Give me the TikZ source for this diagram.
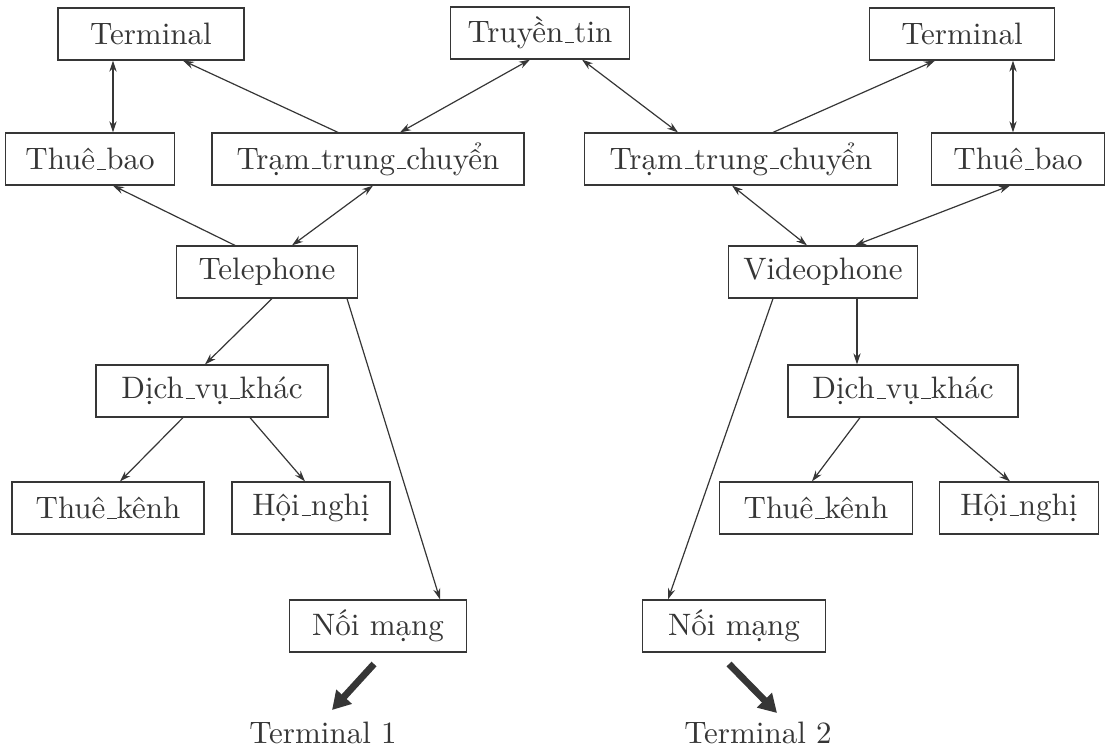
\documentclass[tikz,border=0pt]{standalone}
\usepackage{fontspec}
\setmainfont{lmroman10-regular}[Extension=.otf]
\usetikzlibrary{arrows.meta}
\definecolor{ink}{HTML}{363636}
\newcommand\usc{\leavevmode\kern.06em\vbox{\hrule width.3em height.45pt}}
\begin{document}
\begin{tikzpicture}[x=0.5pt,y=-0.5pt,
  box/.style={draw=ink,line width=0.6pt,text=ink,font=\fontsize{15.5}{18}\selectfont,minimum height=26pt,inner sep=0pt},
  con/.style={draw=ink,line width=0.6pt,-{Stealth[length=5.5pt,width=3.6pt]}},
  bi/.style={draw=ink,line width=0.6pt,{Stealth[length=5.5pt,width=3.6pt]}-{Stealth[length=5.5pt,width=3.6pt]}},
  thick arrow/.style={draw=ink,line width=3.4pt,-{Triangle[length=9pt,width=10pt]}},
  lbl/.style={text=ink,font=\fontsize{15.5}{18}\selectfont,inner sep=0pt}]
\useasboundingbox (0,0) rectangle (1113,748);
% nodes
\node[box,minimum width=93pt]   (termL)  at (151,34)  {Terminal};
\node[box,minimum width=89.5pt] (truyen) at (540,33)  {Truyền\usc tin};
\node[box,minimum width=92.5pt] (termR)  at (962,34)  {Terminal};
\node[box,minimum width=84.5pt] (thueL)  at (90,159)  {Thuê\usc bao};
\node[box,minimum width=156pt]  (tramL)  at (368,159) {Trạm\usc trung\usc chuyển};
\node[box,minimum width=156.5pt](tramR)  at (741,159) {Trạm\usc trung\usc chuyển};
\node[box,minimum width=86.5pt] (thueR)  at (1018,159){Thuê\usc bao};
\node[box,minimum width=90.5pt] (tel)    at (267,272) {Telephone};
\node[box,minimum width=94.5pt] (video)  at (823,272) {Videophone};
\node[box,minimum width=116pt]  (dvkL)   at (212,391) {Dịch\usc vụ\usc khác};
\node[box,minimum width=115pt]  (dvkR)   at (903,391) {Dịch\usc vụ\usc khác};
\node[box,minimum width=96pt]   (tkL)    at (108,508) {Thuê\usc kênh};
\node[box,minimum width=79pt]   (hnL)    at (311,508) {Hội\usc nghị};
\node[box,minimum width=96.5pt] (tkR)    at (816,508) {Thuê\usc kênh};
\node[box,minimum width=79.5pt] (hnR)    at (1019,508){Hội\usc nghị};
\node[box,minimum width=88.5pt] (noiL)   at (378,626) {Nối mạng};
\node[box,minimum width=91.5pt] (noiR)   at (734,626) {Nối mạng};
\node[lbl] (t1) at (323,733) {Terminal 1};
\node[lbl] (t2) at (758,733) {Terminal 2};
% connectors
\draw[bi]  ([xshift=-19pt]termL.south) -- ([xshift=11.5pt]thueL.north);
\draw[con] ([xshift=-15pt]tramL.north) -- ([xshift=16pt]termL.south);
\draw[bi]  ([xshift=16pt]tramL.north) -- ([xshift=-5pt]truyen.south);
\draw[bi]  ([xshift=21pt]truyen.south) -- ([xshift=-31.5pt]tramR.north);
\draw[con] ([xshift=16pt]tramR.north) -- ([xshift=-13.5pt]termR.south);
\draw[bi]  ([xshift=25.5pt]termR.south) -- ([xshift=-2.5pt]thueR.north);
\draw[con] ([xshift=-16pt]tel.north) -- ([xshift=11.5pt]thueL.south);
\draw[bi]  ([xshift=12.5pt]tel.north) -- ([xshift=2.5pt]tramL.south);
\draw[bi]  ([xshift=-4.5pt]tramR.south) -- ([xshift=-8pt]video.north);
\draw[bi]  ([xshift=16pt]video.north) -- ([xshift=-4pt]thueR.south);
\draw[con] ([xshift=2.5pt]tel.south) -- ([xshift=-3.5pt]dvkL.north);
\draw[con] ([xshift=40pt]tel.south) -- ([xshift=31pt]noiL.north);
\draw[con] ([xshift=-25pt]video.south) -- ([xshift=-33pt]noiR.north);
\draw[con] ([xshift=17pt]video.south) -- ([xshift=-23pt]dvkR.north);
\draw[con] ([xshift=-14.5pt]dvkL.south) -- ([xshift=6pt]tkL.north);
\draw[con] ([xshift=19pt]dvkL.south) -- ([xshift=-3pt]hnL.north);
\draw[con] ([xshift=-21.5pt]dvkR.south) -- ([xshift=-2pt]tkR.north);
\draw[con] ([xshift=16pt]dvkR.south) -- ([xshift=-4.5pt]hnR.north);
% thick arrows
\coordinate (a1s) at (374,664);
\coordinate (a1e) at (332,710);
\coordinate (a2s) at (729,664);
\coordinate (a2e) at (777,713);
\draw[thick arrow] (a1s) -- (a1e);
\draw[thick arrow] (a2s) -- (a2e);
\end{tikzpicture}
\end{document}
